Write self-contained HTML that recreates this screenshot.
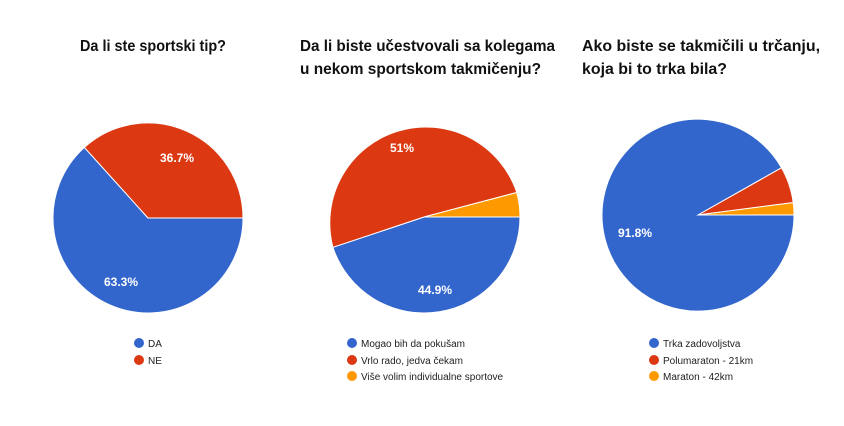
<!DOCTYPE html>
<html><head><meta charset="utf-8"><style>
body{margin:0;background:#fff;width:844px;height:426px;overflow:hidden}
svg{display:block}
.t{font-family:"Liberation Sans",sans-serif;font-weight:bold;font-size:16px;fill:#111}
.p{font-family:"Liberation Sans",sans-serif;font-size:12px;font-weight:bold;fill:#fff}
.l{font-family:"Liberation Sans",sans-serif;font-size:10px;fill:#222}
</style></head><body>
<svg width="844" height="426" viewBox="0 0 844 426">
<text class="t" x="80" y="51" textLength="146" lengthAdjust="spacingAndGlyphs">Da li ste sportski tip?</text>
<text class="t" x="300" y="51" textLength="255" lengthAdjust="spacingAndGlyphs">Da li biste učestvovali sa kolegama</text>
<text class="t" x="300" y="74" textLength="241" lengthAdjust="spacingAndGlyphs">u nekom sportskom takmičenju?</text>
<text class="t" x="582" y="51" textLength="238" lengthAdjust="spacingAndGlyphs">Ako biste se takmičili u trčanju,</text>
<text class="t" x="582" y="74" textLength="145" lengthAdjust="spacingAndGlyphs">koja bi to trka bila?</text>

<g stroke="#fff" stroke-width="1">
<path d="M148 218 L243 218 A95 95 0 1 1 84.4 147.4 Z" fill="#3366cc"/>
<path d="M148 218 L84.4 147.4 A95 95 0 0 1 243 218 Z" fill="#dc3912"/>

<path d="M424 217 L520 217 A96 96 0 0 1 332.9 247.3 Z" fill="#3366cc"/>
<path d="M424 217 L332.9 247.3 A96 96 0 0 1 516.8 192.5 Z" fill="#dc3912"/>
<path d="M424 217 L516.8 192.5 A96 96 0 0 1 520 217 Z" fill="#ff9900"/>

<path d="M698 215 L794 215 A96 96 0 1 1 781.5 167.8 Z" fill="#3366cc"/>
<path d="M698 215 L781.5 167.8 A96 96 0 0 1 793.2 202.6 Z" fill="#dc3912"/>
<path d="M698 215 L793.2 202.6 A96 96 0 0 1 794 215 Z" fill="#ff9900"/>
</g>
<text class="p" x="160" y="162">36.7%</text>
<text class="p" x="104" y="286">63.3%</text>
<text class="p" x="390" y="152">51%</text>
<text class="p" x="418" y="294">44.9%</text>
<text class="p" x="618" y="237">91.8%</text>

<circle cx="139" cy="343" r="5" fill="#3366cc"/><text class="l" x="148" y="347">DA</text>
<circle cx="139" cy="360" r="5" fill="#dc3912"/><text class="l" x="148" y="364">NE</text>

<circle cx="352" cy="343" r="5" fill="#3366cc"/><text class="l" x="361" y="347">Mogao bih da pokušam</text>
<circle cx="352" cy="360" r="5" fill="#dc3912"/><text class="l" x="361" y="364">Vrlo rado, jedva čekam</text>
<circle cx="352" cy="376" r="5" fill="#ff9900"/><text class="l" x="361" y="380">Više volim individualne sportove</text>

<circle cx="654" cy="343" r="5" fill="#3366cc"/><text class="l" x="663" y="347">Trka zadovoljstva</text>
<circle cx="654" cy="360" r="5" fill="#dc3912"/><text class="l" x="663" y="364">Polumaraton - 21km</text>
<circle cx="654" cy="376" r="5" fill="#ff9900"/><text class="l" x="663" y="380">Maraton - 42km</text>
</svg>
</body></html>
